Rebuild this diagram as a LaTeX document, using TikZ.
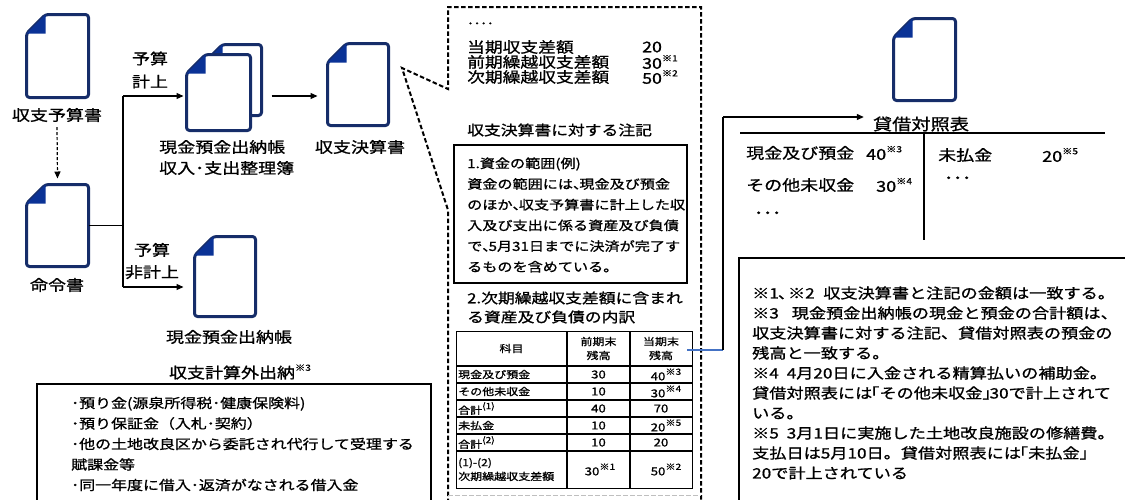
\documentclass[tikz,border=0pt]{standalone}
\usepackage{fontspec}
\setmainfont{Noto Sans CJK JP}[FakeStretch=1.2,FakeBold=1.0]
\usetikzlibrary{arrows.meta,calc}
\definecolor{docnavy}{RGB}{22,45,105}
\definecolor{docfold}{RGB}{10,50,150}
\definecolor{linkblue}{RGB}{68,114,196}
\newcommand\myfs[2]{\fontsize{#1}{#2}\selectfont}
\newcommand\supnote[1]{\raisebox{0.5em}{\myfs{8.5}{9}#1}}
\newcommand\jlb{\makebox[0.5em][r]{「}}
\newcommand\jrb{\makebox[0.5em][l]{」}}
\newcommand\jcm{\makebox[0.5em][l]{、}}
\tikzset{
  docframe/.style={draw=docnavy,line width=3pt,fill=white,rounded corners=3pt,line join=round},
  docfoldfill/.style={fill=docfold},
  lbl/.style={font={\myfs{15}{21}},inner sep=1pt,align=center},
  txt/.style={inner sep=1pt,anchor=west,align=left},
  conn/.style={line width=1.2pt,draw=black},
  arr/.style={conn,-{Triangle[length=7pt,width=6pt]}},
  callout/.style={line width=2pt,dash pattern=on 4.5pt off 2.5pt,line join=miter},
  frame/.style={draw,line width=2pt,inner sep=0pt,anchor=north west},
  grid/.style={line width=1.3pt},
  cell/.style={inner sep=0pt,font={\myfs{10}{14}},align=center},
  num/.style={inner sep=0pt,font={\myfs{11}{14}}},
  rowtxt/.style={txt,font={\myfs{14.8}{16}}}
}
\newcommand\DocIcon[5]{%
  \node[minimum width=#4pt,minimum height=#5pt,inner sep=0pt,outer sep=0pt] (#1) at (#2,#3) {};
  \draw[docframe] ([yshift=-19pt]#1.north west) -- ([xshift=19pt]#1.north west) -- (#1.north east) -- (#1.south east) -- (#1.south west) -- cycle;
  \fill[docfoldfill] ([yshift=-19pt]#1.north west) -- ([xshift=19pt]#1.north west) -- ([xshift=19pt,yshift=-19pt]#1.north west) -- cycle;
}
\begin{document}
\begin{tikzpicture}[x=1pt,y=-1pt]
\useasboundingbox (0,0) rectangle (1125,499);

% ---------- left part ----------
\DocIcon{d1}{57.5}{56}{62}{83}
\node[lbl] (t1) at (57,115) {収支予算書};
\DocIcon{d2}{57.5}{225.5}{62}{82}
\node[lbl] (t2) at (57,285) {命令書};
\draw[arr,dash pattern=on 3pt off 2pt] ([yshift=-4pt]t1.south) -- ([yshift=6pt]d2.north);

\coordinate (j1) at (123,96);
\coordinate (j2) at (123,287);
\node[lbl,font={\myfs{15}{23}}] (bud1) at (150,70) {予算\\計上};
\node[lbl,font={\myfs{15}{22}}] (bud2) at (152,261) {予算\\非計上};

\DocIcon{sb}{232.5}{80}{58}{71}
\DocIcon{sf}{218.5}{92.5}{64}{76}
\node[lbl,anchor=west,align=left] (tsf) at (158,157.5) {現金預金出納帳\\収入･支出整理簿};

\DocIcon{d3}{358}{84.5}{61}{82}
\node[lbl] (t3) at (360,147) {収支決算書};

\DocIcon{d4}{225}{276.5}{61}{80}
\node[lbl] (t4) at (229,337) {現金預金出納帳};

\draw[conn] (d2.east) -- (d2.east -| j1);
\draw[conn] (j1) -- (j2);
\draw[arr] (j1) -- ([xshift=-3pt]sf.west |- j1);
\draw[arr] (j2) -- ([xshift=-11pt]d4.west |- j2);
\draw[arr] ([xshift=10pt]sb.east |- j1) -- ([xshift=-10pt]d3.west |- j1);

\node[lbl] (t5) at (240,372) {収支計算外出納\supnote{※3}};
\node[frame,minimum width=394pt,minimum height=122pt] (box1) at (36,383) {};
\node[txt,font={\myfs{13.3}{20.5}}] (box1t) at (70,444) {･預り金(源泉所得税･健康保険料)\\･預り保証金（入札･契約）\\･他の土地改良区から委託され代行して受理する\\賦課金等\\･同一年度に借入･返済がなされる借入金};

% ---------- centre callout ----------
\coordinate (tip) at (402,68);
\draw[callout] (448,503) -- (448,210) -- (tip) -- (448,89) -- (448,7) -- (701,7) -- (701,503);
\draw[line width=1pt,dash pattern=on 4.5pt off 2.5pt,draw=black!25] (448,495) -- (701,495);

\node[txt,font={\myfs{11}{12}}] (dots1) at (466,25) {････};
\node[rowtxt] (ra) at (466,47) {当期収支差額};
\node[rowtxt] (rb) at (466,62) {前期繰越収支差額};
\node[rowtxt] (rc) at (466,77) {次期繰越収支差額};
\node[rowtxt] (ran) at (641,47) {20};
\node[rowtxt] (rbn) at (641,62) {30\supnote{※1}};
\node[rowtxt] (rcn) at (641,77) {50\supnote{※2}};
\node[txt,font={\myfs{14}{18}}] (notehd) at (466,130) {収支決算書に対する注記};

\node[frame,minimum width=233pt,minimum height=138pt] (box2) at (453,144) {};
\node[txt,font={\myfs{12.6}{20.7}}] (box2t) at (466,215) {1.資金の範囲(例)\\資金の範囲には\jcm 現金及び預金\\のほか\jcm 収支予算書に計上した収\\入及び支出に係る資産及び負債\\で\jcm 5月31日までに決済が完了す\\るものを含めている。};

\node[txt,font={\myfs{14}{18}}] (sec2a) at (466,298) {2.次期繰越収支差額に含まれ};
\node[txt,font={\myfs{14}{18}}] (sec2b) at (466,317) {る資産及び負債の内訳};

% table
\node[draw,grid,inner sep=0pt,anchor=north west,minimum width=236pt,minimum height=157pt] (tbl) at (456,331) {};
\draw[grid] (567,331) -- (567,488);
\draw[grid] (630,331) -- (630,488);
\foreach \yy in {366,383,400,417,434,451} \draw[grid] (456,\yy) -- (692,\yy);
\node[cell] (h1) at (511.5,348.5) {科目};
\node[cell] (h2) at (598.5,348.5) {前期末\\残高};
\node[cell] (h3) at (661,348.5) {当期末\\残高};
\node[cell,anchor=west] (r1a) at (458,374.5) {現金及び預金};
\node[cell,anchor=west] (r2a) at (458,391.5) {その他未収金};
\node[cell,anchor=west] (r3a) at (458,408.5) {合計\supnote{(1)}};
\node[cell,anchor=west] (r4a) at (458,425.5) {未払金};
\node[cell,anchor=west] (r5a) at (458,442.5) {合計\supnote{(2)}};
\node[cell,anchor=west,align=left] (r6a) at (458,469.5) {(1)-(2)\\次期繰越収支差額};
\node[num] (r1b) at (598.5,374.5) {30};
\node[num] (r2b) at (598.5,391.5) {10};
\node[num] (r3b) at (598.5,408.5) {40};
\node[num] (r4b) at (598.5,425.5) {10};
\node[num] (r5b) at (598.5,442.5) {10};
\node[num] (r6b) at (600,469.5) {30\supnote{※1}};
\node[num] (r1c) at (666,374.5) {40\supnote{※3}};
\node[num] (r2c) at (666,391.5) {30\supnote{※4}};
\node[num] (r3c) at (661,408.5) {70};
\node[num] (r4c) at (666,425.5) {20\supnote{※5}};
\node[num] (r5c) at (661,442.5) {20};
\node[num] (r6c) at (666,469.5) {50\supnote{※2}};

% ---------- right part ----------
\coordinate (j3) at (723,350);
\coordinate (j4) at (723,117);
\DocIcon{d5}{924.5}{59.5}{62}{82}
\node[lbl,font={\myfs{16}{18}}] (bs) at (921,124) {貸借対照表};
\draw[linkblue,line width=1.2pt] ([xshift=-6pt]tbl.east |- j3) -- (j3);
\draw[conn] (j3) -- (j4);
\draw[arr] (j4) -- ([xshift=-8pt]bs.west |- j4);

\coordinate (hl1) at (740,133);
\coordinate (hl2) at (1105,133);
\coordinate (vl1) at (924,133);
\coordinate (vl2) at (924,240);
\draw[conn] (hl1) -- (hl2);
\draw[conn] (vl1) -- (vl2);
\node[txt,font={\myfs{15}{18}}] (ba1) at (745,153) {現金及び預金};
\node[txt,font={\myfs{15}{18}}] (ba1n) at (865,153) {40\supnote{※3}};
\node[txt,font={\myfs{15}{18}}] (ba2) at (745,185) {その他未収金};
\node[txt,font={\myfs{15}{18}}] (ba2n) at (875,185) {30\supnote{※4}};
\node[txt,font={\myfs{15}{18}}] (ba3) at (753,215) {･･･};
\node[txt,font={\myfs{15}{18}}] (bl1) at (937,155) {未払金};
\node[txt,font={\myfs{15}{18}}] (bl1n) at (1041,155) {20\supnote{※5}};
\node[txt,font={\myfs{15}{18}}] (bl2) at (943,180) {･･･};

\node[frame,minimum width=400pt,minimum height=250pt] (box3) at (738,257) {};
\node[txt,font={\myfs{14.3}{20}}] (box3t) at (751,383) {※1\kern-1pt、\kern-7pt※2\hspace{0.6em}収支決算書と注記の金額は一致する。\\※3\hspace{0.9em}現金預金出納帳の現金と預金の合計額は、\\収支決算書に対する注記、貸借対照表の預金の\\残高と一致する。\\※4\hspace{0.55em}4月20日に入金される精算払いの補助金。\\貸借対照表には\jlb その他未収金\jrb 30で計上されて\\いる。\\※5\hspace{0.55em}3月1日に実施した土地改良施設の修繕費。\\支払日は5月10日。貸借対照表には\jlb 未払金\jrb\\20で計上されている};
\end{tikzpicture}
\end{document}
